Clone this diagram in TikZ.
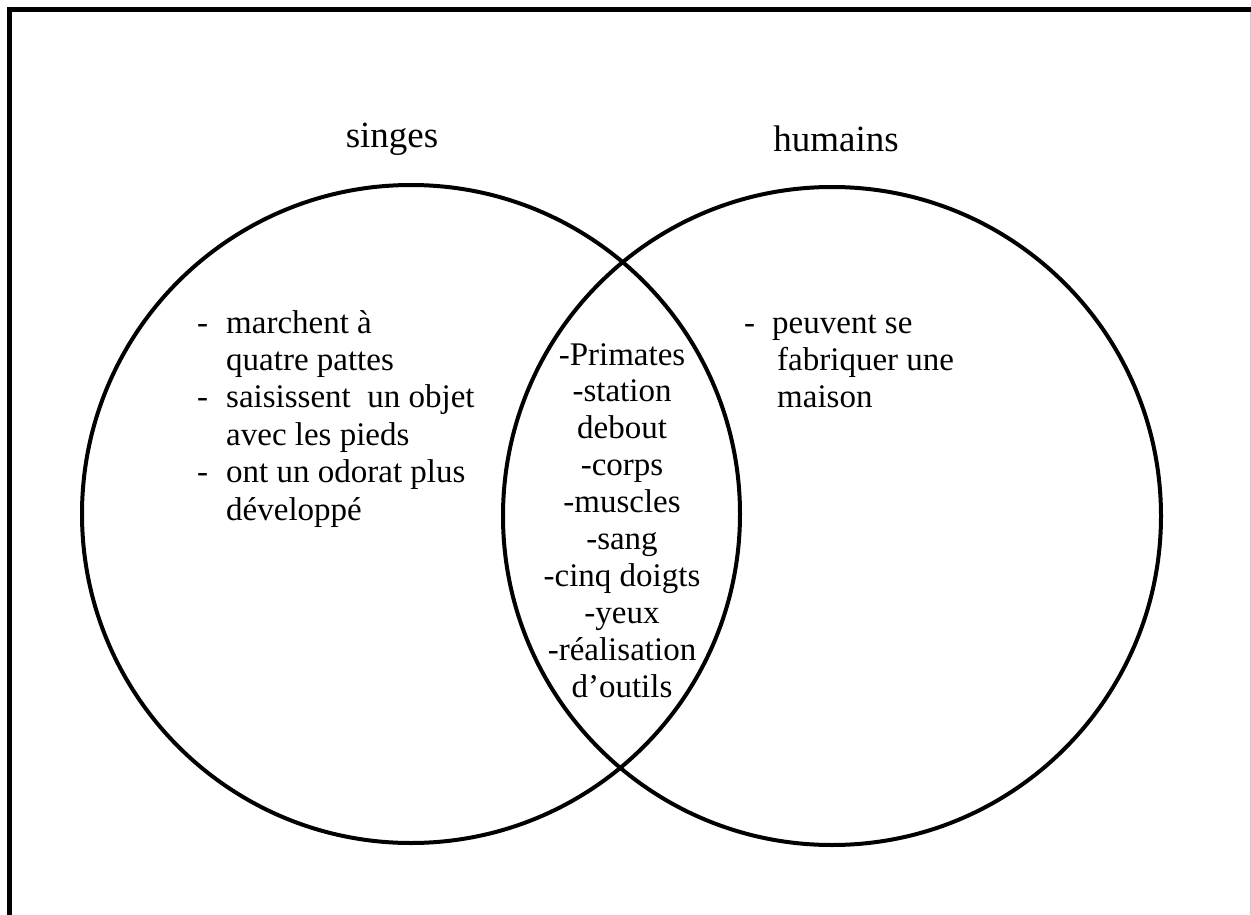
\documentclass[tikz,border=0pt]{standalone}
\usepackage{fontspec}
\setmainfont{Liberation Serif}
\begin{document}
\begin{tikzpicture}[x=1pt,y=-1pt,
  body/.style={inner sep=0pt,anchor=base west,font=\fontsize{33}{38}\selectfont},
  mid/.style={inner sep=0pt,anchor=base,font=\fontsize{33}{38}\selectfont},
  title/.style={inner sep=0pt,anchor=base,font=\fontsize{37}{42}\selectfont},
  venn/.style={circle,draw,line width=4pt,minimum size=658pt,inner sep=0pt}]
\useasboundingbox (0,0) rectangle (1251,915);
% frame
\draw[line width=5pt] (9.5,915) -- (9.5,9.5) -- (1251,9.5);
\draw[line width=1.2pt,gray!40] (1250.3,12) -- (1250.3,915);
% circles
\node[venn] (L) at (411,514) {};
\node[venn] (R) at (832,516) {};
% titles
\node[title] (tL) at (392,148) {singes};
\node[title] (tR) at (836,152) {humains};
% left list
\node[body] (d1) at (197,333) {-};
\node[body] (l1) at (226,333) {marchent à};
\node[body] (l2) at (226,370.4) {quatre pattes};
\node[body] (d2) at (197,407.8) {-};
\node[body] (l3) at (226,407.8) {saisissent\ \ un objet};
\node[body] (l4) at (226,445.2) {avec les pieds};
\node[body] (d3) at (197,482.6) {-};
\node[body] (l5) at (226,482.6) {ont un odorat plus};
\node[body] (l6) at (226,520) {développé};
% middle list
\node[mid] (m1) at (622,365) {-Primates};
\node[mid] (m2) at (622,401.9) {-station};
\node[mid] (m3) at (622,438.8) {debout};
\node[mid] (m4) at (622,475.7) {-corps};
\node[mid] (m5) at (622,512.6) {-muscles};
\node[mid] (m6) at (622,549.5) {-sang};
\node[mid] (m7) at (622,586.4) {-cinq doigts};
\node[mid] (m8) at (622,623.3) {-yeux};
\node[mid] (m9) at (622,660.2) {-réalisation};
\node[mid] (m10) at (622,697.1) {d’outils};
% right list
\node[body] (d4) at (744,333) {-};
\node[body] (r1) at (772,333) {peuvent se};
\node[body] (r2) at (777,370.4) {fabriquer une};
\node[body] (r3) at (777,407.8) {maison};
\end{tikzpicture}
\end{document}
